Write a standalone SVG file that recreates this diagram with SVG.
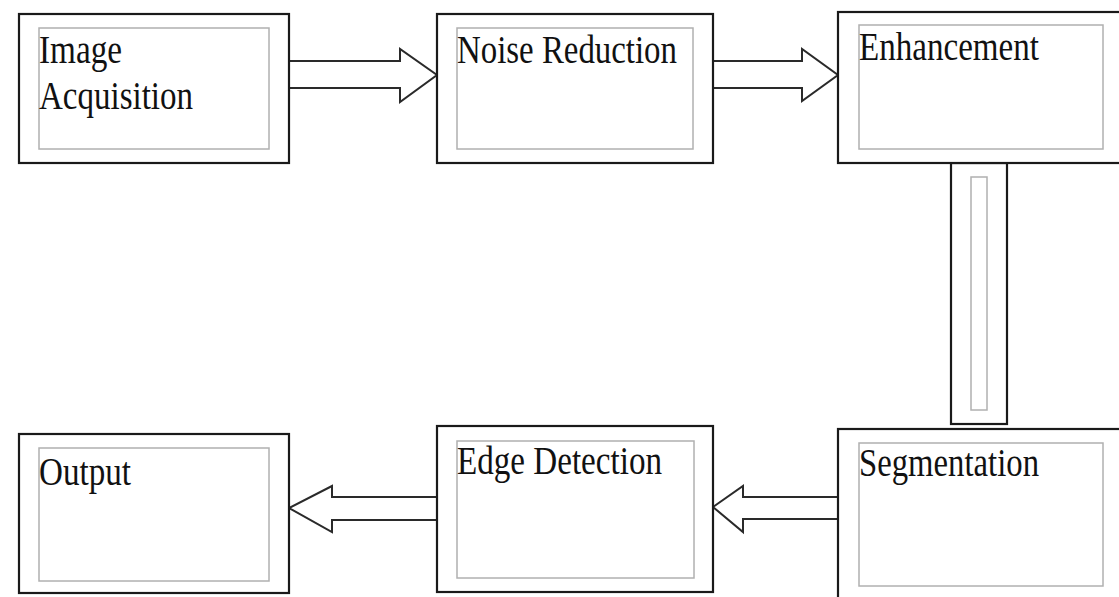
<svg xmlns="http://www.w3.org/2000/svg" width="1119" height="597" viewBox="0 0 1119 597">
<style>
.outer{fill:#fff;stroke:#1a1a1a;stroke-width:2.2}
.inner{fill:none;stroke:#b0b0b0;stroke-width:1.5}
.lbl{font-family:"Liberation Serif","Times New Roman",serif;font-size:41px;fill:#111}
.arr{fill:#fff;stroke:#2a2a2a;stroke-width:2;stroke-linejoin:miter}
</style>
<rect width="1119" height="597" fill="#fff"/>
<g id="connectors">
<polygon class="arr" points="289,61 400,61 400,49 437,75 400,102 400,88 289,88"/>
<polygon class="arr" points="713,61 802,61 802,49 838,75 802,101 802,88 713,88"/>
<rect class="outer" x="951" y="163" width="56" height="261"/>
<rect class="inner" x="971" y="177" width="16" height="233"/>
<polygon class="arr" points="838,497 743,497 743,486 713,507 743,532 743,519 838,519"/>
<polygon class="arr" points="437,497 332,497 332,486 289,508 332,532 332,520 437,520"/>
</g>
<g id="image-acquisition">
<rect class="outer" x="19" y="14" width="270" height="149"/>
<rect class="inner" x="39" y="28" width="230" height="121"/>
<text class="lbl" x="39" y="63" textLength="83" lengthAdjust="spacingAndGlyphs">Image</text>
<text class="lbl" x="39" y="109" textLength="154" lengthAdjust="spacingAndGlyphs">Acquisition</text>
</g>
<g id="noise-reduction">
<rect class="outer" x="437" y="14" width="276" height="149"/>
<rect class="inner" x="457" y="28" width="236" height="121"/>
<text class="lbl" x="457" y="63" textLength="220" lengthAdjust="spacingAndGlyphs">Noise Reduction</text>
</g>
<g id="enhancement">
<rect class="outer" x="838" y="12" width="300" height="151"/>
<rect class="inner" x="859" y="25" width="244" height="124"/>
<text class="lbl" x="859" y="60" textLength="180" lengthAdjust="spacingAndGlyphs">Enhancement</text>
</g>
<g id="segmentation">
<rect class="outer" x="838" y="429" width="300" height="200"/>
<rect class="inner" x="859" y="443" width="244" height="143"/>
<text class="lbl" x="859" y="476" textLength="180" lengthAdjust="spacingAndGlyphs">Segmentation</text>
</g>
<g id="edge-detection">
<rect class="outer" x="437" y="426" width="276" height="166"/>
<rect class="inner" x="457" y="441" width="237" height="137"/>
<text class="lbl" x="457" y="474" textLength="205" lengthAdjust="spacingAndGlyphs">Edge Detection</text>
</g>
<g id="output">
<rect class="outer" x="19" y="434" width="270" height="159"/>
<rect class="inner" x="39" y="448" width="230" height="133"/>
<text class="lbl" x="39" y="485" textLength="92" lengthAdjust="spacingAndGlyphs">Output</text>
</g>
</svg>
